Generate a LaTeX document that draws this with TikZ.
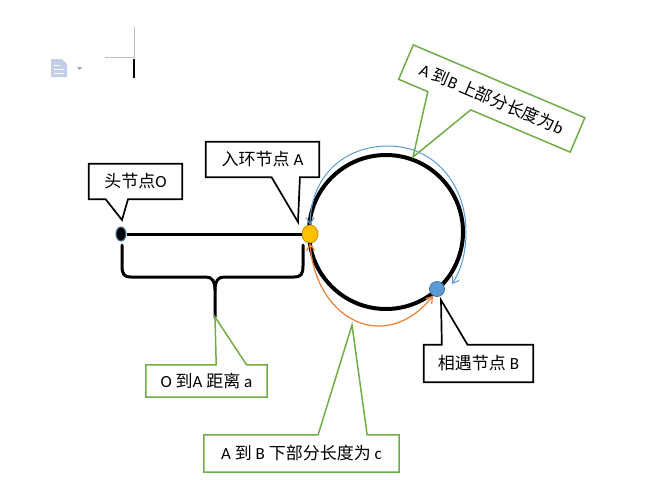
\documentclass[tikz,border=0pt]{standalone}
\usepackage{fontspec}
\setmainfont{Carlito}
\newfontfamily\cjk{Noto Sans CJK SC}
\usetikzlibrary{calc,arrows.meta,shapes.geometric}
\definecolor{callgreen}{HTML}{70AD47}
\definecolor{arcorange}{HTML}{ED7D31}
\definecolor{arcblue}{HTML}{5B9BD5}
\definecolor{ringyellow}{HTML}{FFC000}
\definecolor{yellowedge}{HTML}{C09000}
\definecolor{meetblue}{HTML}{5B9BD5}
\definecolor{meetedge}{HTML}{41719C}
\definecolor{iconblue}{HTML}{C3CEE8}

\begin{document}
\begin{tikzpicture}[x=1pt,y=-1pt,
lbl/.style={inner sep=0pt,font=\fontsize{17}{20}\selectfont},
blackcall/.style={draw=black,line width=1.7pt},
greencall/.style={draw=callgreen,line width=1.5pt},
bracel/.style={line width=3pt,line cap=round},
arcline/.style={line width=1.2pt,{Straight Barb[length=6pt,width=8pt]}-{Straight Barb[length=6pt,width=8pt]}}]
\useasboundingbox (0,0) rectangle (670,501);

% word artifacts
\fill[iconblue] (51,59) -- (62,59) -- (67,64) -- (67,77) -- (51,77) -- cycle;
\draw[white,line width=1pt] (54,65) -- (60,65) (54,69) -- (64,69) (54,73) -- (64,73);
\fill[gray!70] (77,67) -- (82,67) -- (79.5,70) -- cycle;
\draw[gray!50,line width=0.8pt] (105,57) -- (134,57) -- (134,27);
\draw[line width=2pt] (134,59) -- (134,78);

% ring and tail
\coordinate (C) at (386,232);
\draw[line width=4pt] (C) circle[radius=77];
\node[ellipse,minimum width=10pt,minimum height=14pt,inner sep=0pt,fill=black,draw=meetedge,line width=1pt] (O) at (121,234) {};
\node[ellipse,minimum width=16pt,minimum height=18pt,inner sep=0pt,fill=ringyellow,draw=yellowedge,line width=0.8pt] (A) at (310,234) {};
\node[circle,minimum size=15pt,inner sep=0pt,fill=meetblue,draw=meetedge,line width=0.8pt] (B) at (437,289) {};
\draw[line width=3pt] (O) -- (A);

% tips
\coordinate (tO) at (122,220);
\coordinate (tA) at (298,222);
\coordinate (tB) at (441,300);
\coordinate (ta) at (215,317);
\coordinate (tc) at (352,325);
\coordinate (tb) at (413,157);
\coordinate (bb) at (452,284);

% brace
\draw[bracel] (122,245) -- (122,266) .. controls (122,274) and (124,277) .. (131,277) -- (206,277) .. controls (212,277) and (215,281) .. (215,290) -- (ta);
\draw[bracel] (215,290) .. controls (215,281) and (218,277) .. (224,277) -- (294,277) .. controls (301,277) and (303,274) .. (303,266) -- (303,245);

% arcs
\draw[arcline,draw=arcblue,line width=1pt] (A.north) .. controls (311,175) and (345,146) .. (388,146) .. controls (435,146) and (466,185) .. (466,232) .. controls (466,255) and (460,272) .. (bb);
\draw[arcline,draw=arcorange] (A.south) .. controls (316,320) and (385,355) .. (B.-120);

% callouts
\node[lbl,minimum width=93pt,minimum height=35pt] (hd) at (135.5,181.5) {{\cjk 头节点}O};
\draw[blackcall] (hd.north west) -- (hd.north east) -- (hd.south east) -- ($(hd.south west)!0.42!(hd.south east)$) -- (tO) -- ($(hd.south west)!0.18!(hd.south east)$) -- (hd.south west) -- cycle;

\node[lbl,minimum width=113pt,minimum height=35pt] (en) at (262.5,159.5) {{\cjk 入环节点} A};
\draw[blackcall] (en.north west) -- (en.north east) -- (en.south east) -- ($(en.south west)!0.83!(en.south east)$) -- (tA) -- ($(en.south west)!0.58!(en.south east)$) -- (en.south west) -- cycle;

\node[lbl,minimum width=109pt,minimum height=37pt] (mt) at (478.5,363.5) {{\cjk 相遇节点} B};
\draw[blackcall] (mt.south west) -- (mt.south east) -- (mt.north east) -- ($(mt.north west)!0.40!(mt.north east)$) -- (tB) -- ($(mt.north west)!0.165!(mt.north east)$) -- (mt.north west) -- cycle;

\node[lbl,minimum width=121pt,minimum height=32pt] (oa) at (206.5,381) {O {\cjk 到}A {\cjk 距离} a};
\draw[greencall] (oa.south west) -- (oa.south east) -- (oa.north east) -- ($(oa.north west)!0.83!(oa.north east)$) -- (ta) -- ($(oa.north west)!0.58!(oa.north east)$) -- (oa.north west) -- cycle;

\node[lbl,minimum width=195pt,minimum height=37pt] (lc) at (301.5,453.5) {A {\cjk 到} B {\cjk 下部分长度为} c};
\draw[greencall] (lc.south west) -- (lc.south east) -- (lc.north east) -- ($(lc.north west)!0.836!(lc.north east)$) -- (tc) -- ($(lc.north west)!0.585!(lc.north east)$) -- (lc.north west) -- cycle;

\node[lbl,rotate=-23,minimum width=186pt,minimum height=37pt] (ub) at (491.75,98.5) {A {\cjk 到}B {\cjk 上部分长度为}b};
\draw[greencall] (ub.north west) -- (ub.north east) -- (ub.south east) -- ($(ub.south west)!0.42!(ub.south east)$) -- (tb) -- ($(ub.south west)!0.17!(ub.south east)$) -- (ub.south west) -- cycle;
\end{tikzpicture}
\end{document}
